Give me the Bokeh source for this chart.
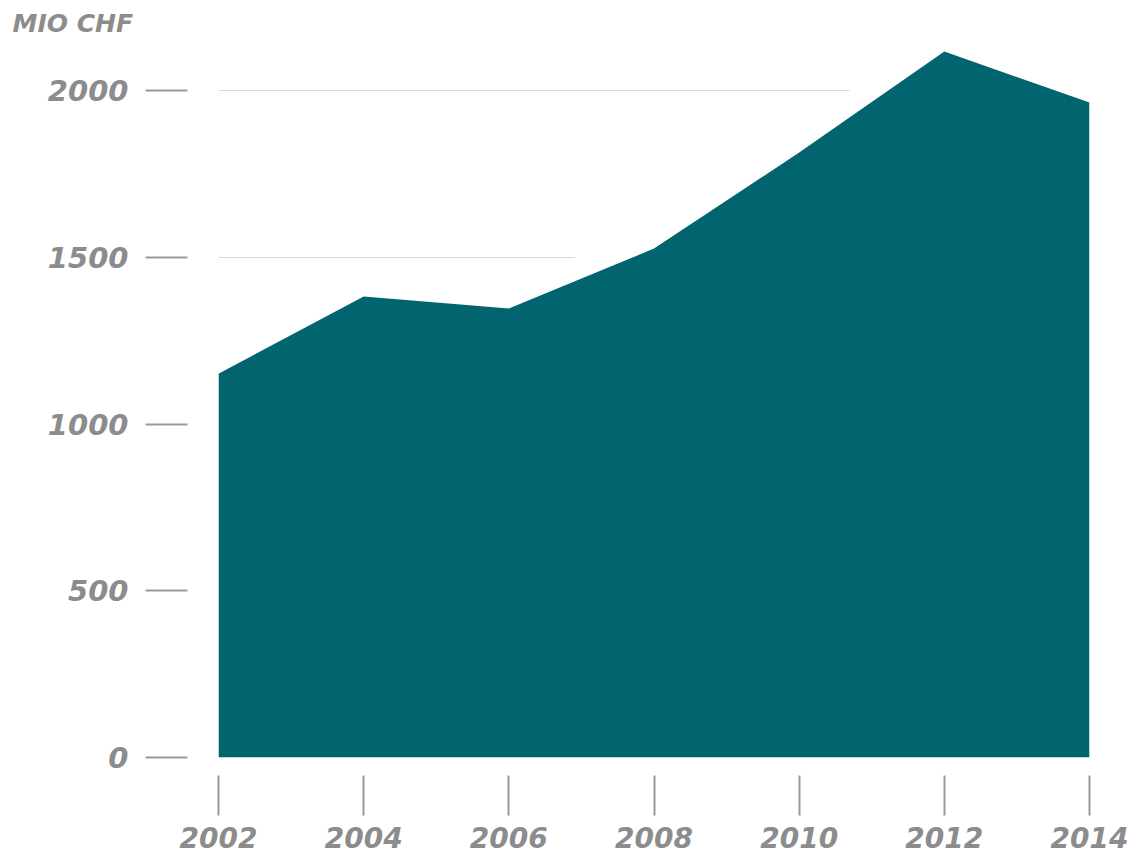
from bokeh.plotting import figure
from bokeh.models import Range1d, FixedTicker, ColumnDataSource, Title
from bokeh.embed import file_html
from bokeh.resources import INLINE

years = [2002, 2004, 2006, 2008, 2010, 2012, 2014]
values = [1151, 1382, 1346, 1526, 1814, 2117, 1964]
y_ticks = [0, 500, 1000, 1500, 2000]
unit_label = "MIO CHF"

TEAL = "#02646e"
GREY = "#8c8c8c"
FONT = "DejaVu Sans"

src = ColumnDataSource(dict(x=years, y=values, base=[0] * len(years)))

p = figure(width=1141, height=858, output_backend="svg", toolbar_location=None,
           x_range=Range1d(2002, 2014), y_range=Range1d(0, 2150),
           min_border_left=218, min_border_right=52, min_border_top=40, min_border_bottom=101)
p.outline_line_color = None
p.background_fill_color = "white"

# grid
p.xgrid.grid_line_color = None
p.ygrid.grid_line_color = "#d9d9d9"
p.ygrid.grid_line_width = 1.2
p.ygrid.ticker = FixedTicker(ticks=y_ticks)

# white halo so that gridlines stop short of the area
p.line("x", "y", source=src, line_color="white", line_width=44, line_join="round")
p.varea(x="x", y1="base", y2="y", source=src, fill_color=TEAL)

# axes
for ax in (p.xaxis[0], p.yaxis[0]):
    ax.axis_line_color = None
    ax.minor_tick_line_color = None
    ax.major_tick_line_color = "#9a9a9a"
    ax.major_tick_line_width = 2
    ax.major_label_text_font = FONT
    ax.major_label_text_font_style = "bold italic"
    ax.major_label_text_color = GREY
    ax.major_label_text_font_size = "29px"

p.xaxis.ticker = FixedTicker(ticks=years)
p.xaxis.major_tick_in = -18
p.xaxis.major_tick_out = 58
p.xaxis.major_label_standoff = 11
p.xaxis.major_label_text_font_size = "28px"

p.yaxis.ticker = FixedTicker(ticks=y_ticks)
p.yaxis.major_tick_in = -31
p.yaxis.major_tick_out = 73
p.yaxis.major_label_standoff = 17

p.add_layout(Title(text=unit_label, align="left", offset=-206, standoff=5,
                   text_font=FONT, text_font_style="bold italic", text_color=GREY,
                   text_font_size="25px"), "above")

open("out.html", "w").write(file_html(p, INLINE))
